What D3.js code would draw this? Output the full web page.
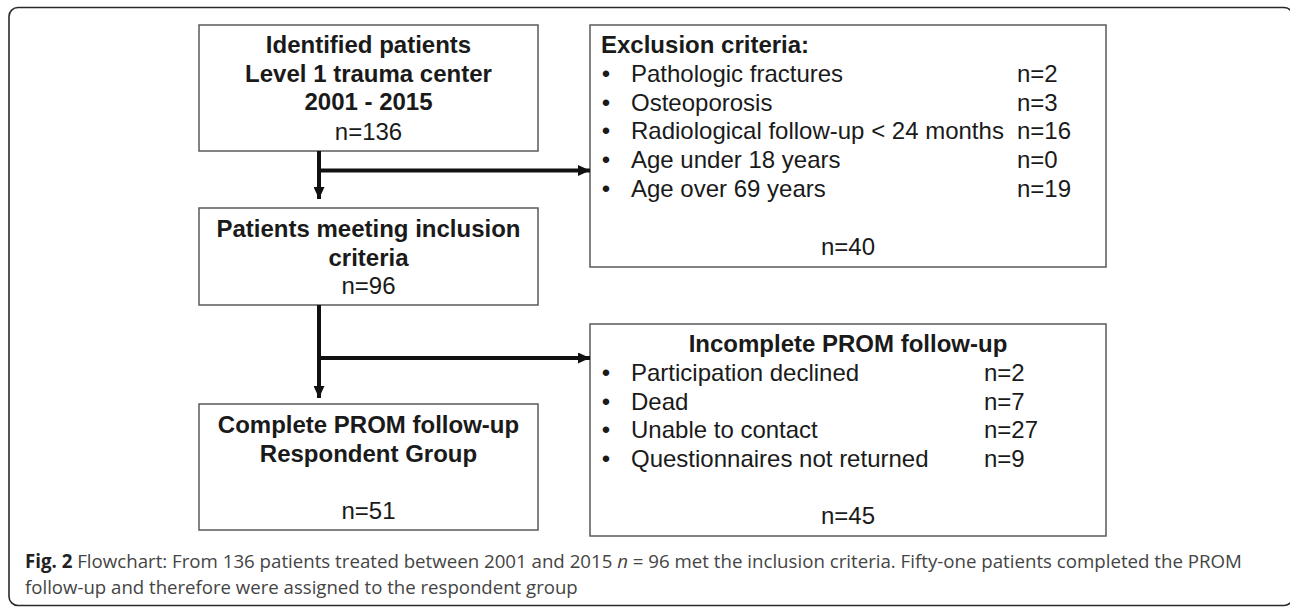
<!DOCTYPE html>
<html>
<head>
<meta charset="utf-8">
<script src="https://cdn.jsdelivr.net/npm/d3@7"></script>
<style>
  html, body { margin: 0; padding: 0; background: #fff; }
  svg { display: block; }
</style>
</head>
<body>
<svg id="chart" width="1290" height="607"></svg>
<script>
// ---- data ----
const identifiedLines = ["Identified patients", "Level 1 trauma center", "2001 - 2015"];
const identifiedN = 136;
const inclusionLines = ["Patients meeting inclusion", "criteria"];
const inclusionN = 96;
const respondentLines = ["Complete PROM follow-up", "Respondent Group"];
const respondentN = 51;

const exclusionTitle = "Exclusion criteria:";
const exclusionLabels = ["Pathologic fractures", "Osteoporosis", "Radiological follow-up < 24 months", "Age under 18 years", "Age over 69 years"];
const exclusionCounts = [2, 3, 16, 0, 19];
const exclusionN = 40;

const incompleteTitle = "Incomplete PROM follow-up";
const incompleteLabels = ["Participation declined", "Dead", "Unable to contact", "Questionnaires not returned"];
const incompleteCounts = [2, 7, 27, 9];
const incompleteN = 45;

const captionBold = "Fig. 2";
const captionLine1a = " Flowchart: From 136 patients treated between 2001 and 2015 ";
const captionItalic = "n";
const captionLine1b = " = 96 met the inclusion criteria. Fifty-one patients completed the PROM";
const captionLine2 = "follow-up and therefore were assigned to the respondent group";

// ---- drawing ----
const svg = d3.select("#chart");
const FONT = "'Liberation Sans', Arial, Helvetica, sans-serif";
const TXT = "#1a1a1a";
const BOX = "#5a5a5a";

// arrow marker
const defs = svg.append("defs");
defs.append("marker")
  .attr("id", "arrow")
  .attr("viewBox", "0 0 12 11")
  .attr("refX", 12).attr("refY", 5.5)
  .attr("markerUnits", "userSpaceOnUse")
  .attr("markerWidth", 12).attr("markerHeight", 11)
  .attr("orient", "auto")
  .append("path").attr("d", "M0,0 L12,5.5 L0,11 Z").attr("fill", "#111");

// outer rounded frame
svg.append("rect")
  .attr("x", 9).attr("y", 7.5).attr("width", 1284).attr("height", 598)
  .attr("rx", 9).attr("ry", 9)
  .attr("fill", "none").attr("stroke", "#2a2a2a").attr("stroke-width", 1.6);

function box(x0, y0, x1, y1) {
  svg.append("rect")
    .attr("x", x0).attr("y", y0).attr("width", x1 - x0).attr("height", y1 - y0)
    .attr("fill", "#fff").attr("stroke", BOX).attr("stroke-width", 1.5);
}

// row scale for lines within boxes (line spacing ~28.7px)
const row = d3.scaleLinear().domain([0, 1]).range([0, 28.7]);

function centeredLines(cx, baseY, lines, nVal, nY) {
  const g = svg.append("g");
  g.selectAll("text.l").data(lines).join("text")
    .attr("class", "l")
    .attr("x", cx).attr("y", (d, i) => baseY + row(i))
    .attr("text-anchor", "middle")
    .attr("font-family", FONT).attr("font-size", 24).attr("font-weight", "bold")
    .attr("fill", TXT).text(d => d);
  g.append("text")
    .attr("x", cx).attr("y", nY)
    .attr("text-anchor", "middle")
    .attr("font-family", FONT).attr("font-size", 24)
    .attr("fill", TXT).text("n=" + nVal);
}

// Left column boxes
box(199, 25, 538, 151);
centeredLines(368.5, 53, identifiedLines, identifiedN, 140);

box(199, 208, 538, 305);
centeredLines(368.5, 237, inclusionLines, inclusionN, 294);

box(199, 404, 538, 530);
centeredLines(368.5, 433, respondentLines, respondentN, 519);

// Right column boxes
function listBox(x0, y0, x1, y1, title, titleX, titleAnchor, titleY, labels, counts, firstY, countX, nVal, nY) {
  box(x0, y0, x1, y1);
  const g = svg.append("g").attr("font-family", FONT).attr("font-size", 24).attr("fill", TXT);
  g.append("text").attr("x", titleX).attr("y", titleY)
    .attr("text-anchor", titleAnchor).attr("font-weight", "bold").text(title);
  const items = labels.map((l, i) => ({label: l, count: counts[i], i}));
  const rows = g.selectAll("g.row").data(items).join("g").attr("class", "row")
    .attr("transform", d => `translate(0,${firstY + row(d.i)})`);
  rows.append("text").attr("x", x0 + 16).attr("y", 0).attr("text-anchor", "middle").text("\u2022");
  rows.append("text").attr("x", 631).attr("y", 0).text(d => d.label);
  rows.append("text").attr("x", countX).attr("y", 0).text(d => "n=" + d.count);
  g.append("text").attr("x", (x0 + x1) / 2).attr("y", nY)
    .attr("text-anchor", "middle").text("n=" + nVal);
}

listBox(590, 25, 1106, 267, exclusionTitle, 601, "start", 53,
  exclusionLabels, exclusionCounts, 82, 1017, exclusionN, 255);

listBox(590, 324, 1106, 536, incompleteTitle, 848, "middle", 352,
  incompleteLabels, incompleteCounts, 381, 984, incompleteN, 524);

// connectors
const conn = svg.append("g").attr("stroke", "#111").attr("stroke-width", 4).attr("fill", "none");
function arrow(x1, y1, x2, y2) {
  conn.append("line").attr("x1", x1).attr("y1", y1).attr("x2", x2).attr("y2", y2)
    .attr("marker-end", "url(#arrow)");
}
// first stage
arrow(319, 151, 319, 199);
arrow(317, 170.5, 590, 170.5);
// second stage
arrow(319, 305, 319, 398);
arrow(317, 358, 590, 358);

// caption
const cap = svg.append("g").attr("font-family", "'Open Sans', 'Noto Sans', sans-serif").attr("font-size", 19).attr("fill", "#444");
const t1 = cap.append("text").attr("x", 0).attr("y", 0);
t1.append("tspan").attr("font-weight", "bold").attr("fill", "#222").text(captionBold);
t1.append("tspan").text(captionLine1a);
t1.append("tspan").attr("font-style", "italic").text(captionItalic);
t1.append("tspan").text(captionLine1b);
const t2 = cap.append("text").attr("x", 0).attr("y", 0).text(captionLine2);

function fit(t, x, y, targetW) {
  const w = t.node().getComputedTextLength();
  const s = targetW / w;
  t.attr("transform", `translate(${x},${y}) scale(${s},1)`);
}
fit(t1, 25, 568, 1218);
fit(t2, 25, 594, 553);
</script>
</body>
</html>
